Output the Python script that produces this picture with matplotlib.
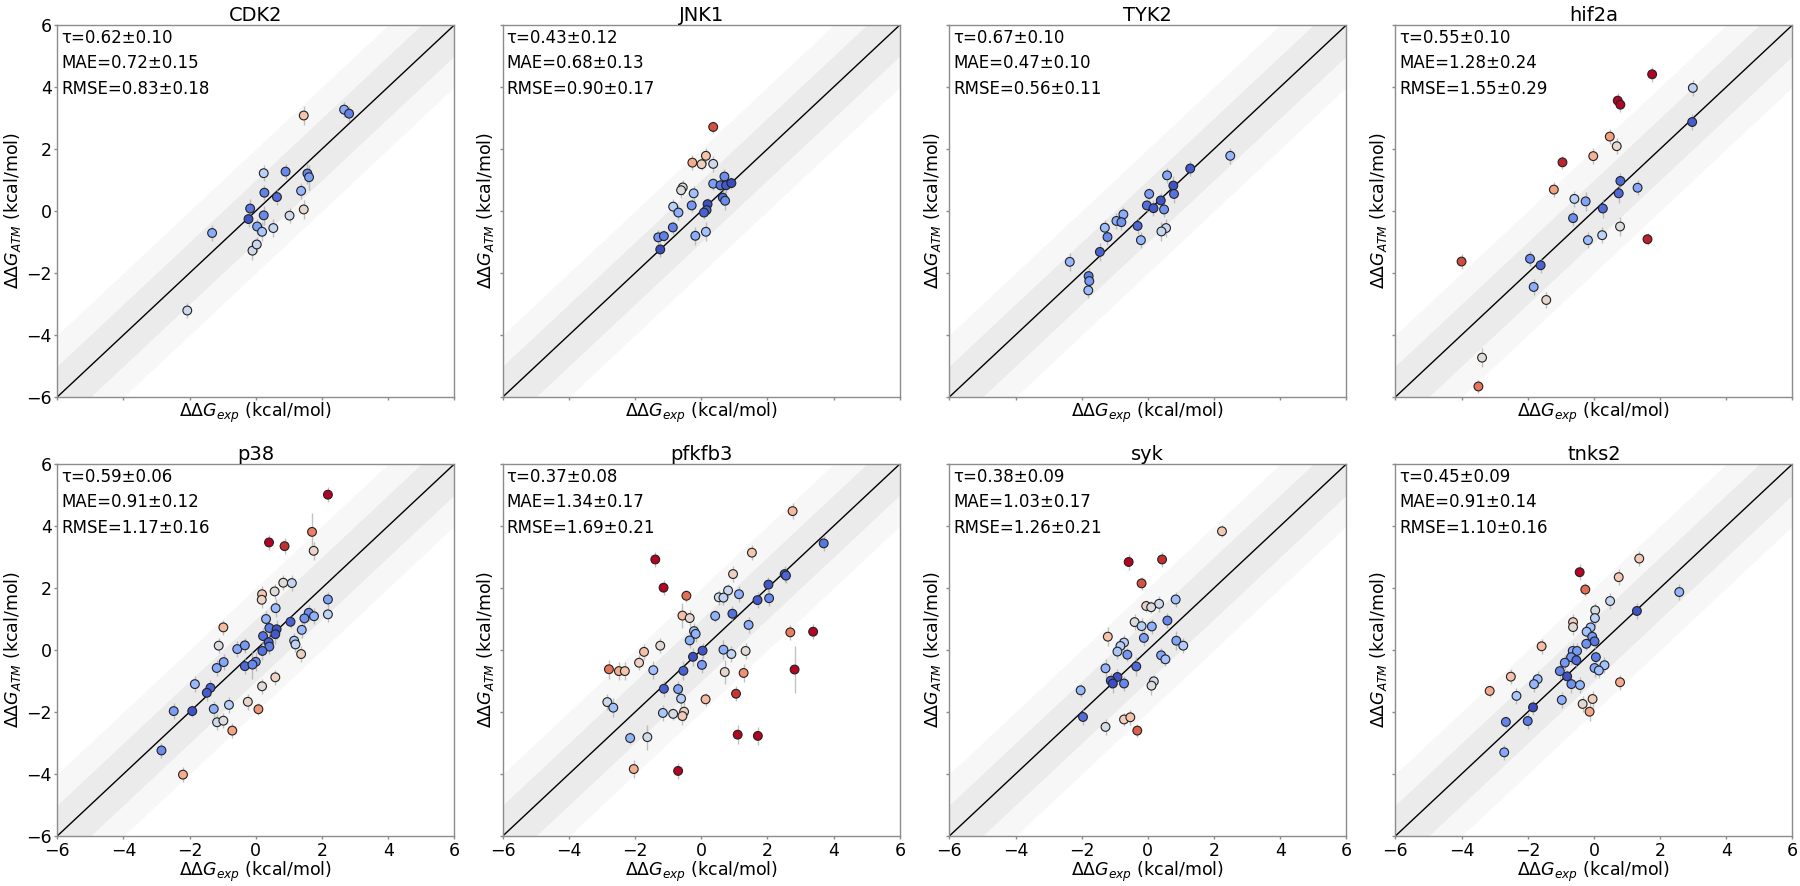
import matplotlib
matplotlib.use('Agg')
import matplotlib.pyplot as plt
import numpy as np
from matplotlib.colors import Normalize

# ---------------- data ----------------
targets = ['CDK2', 'JNK1', 'TYK2', 'hif2a', 'p38', 'pfkfb3', 'syk', 'tnks2']
tau_txt = ['0.62±0.10', '0.43±0.12', '0.67±0.10', '0.55±0.10',
           '0.59±0.06', '0.37±0.08', '0.38±0.09', '0.45±0.09']
mae_txt = ['0.72±0.15', '0.68±0.13', '0.47±0.10', '1.28±0.24',
           '0.91±0.12', '1.34±0.17', '1.03±0.17', '0.91±0.14']
rmse_txt = ['0.83±0.18', '0.90±0.17', '0.56±0.11', '1.55±0.29',
            '1.17±0.16', '1.69±0.21', '1.26±0.21', '1.10±0.16']

cdk2_exp = [-2.07, -1.32, -0.17, -0.22, -0.10, 0.03, 0.04, 0.19, 0.24, 0.26, 0.24,
            0.53, 0.64, 0.90, 1.02, 1.37, 1.45, 1.45, 1.56, 1.61, 2.67, 2.82]
cdk2_atm = [-3.21, -0.71, 0.08, -0.26, -1.28, -1.08, -0.50, -0.67, 1.22, 0.59, -0.14,
            -0.55, 0.45, 1.27, -0.15, 0.65, 3.08, 0.05, 1.21, 1.09, 3.27, 3.14]
cdk2_err = [0.25, 0.25, 0.3, 0.25, 0.3, 0.25, 0.25, 0.3, 0.25, 0.25, 0.3,
            0.3, 0.25, 0.25, 0.25, 0.25, 0.3, 0.3, 0.35, 0.4, 0.25, 0.25]

jnk1_exp = [0.36, 0.14, -0.27, 0.01, 0.36, -0.56, -0.61, -0.23, 0.70, 0.36, 0.58, 0.75,
            0.91, 0.65, 0.72, -0.85, -0.69, -0.29, 0.19, 0.16, 0.08, -0.86, -1.30,
            -1.13, -1.24, -0.18, 0.14]
jnk1_atm = [2.71, 1.78, 1.56, 1.51, 1.52, 0.76, 0.67, 0.57, 1.11, 0.88, 0.83, 0.83,
            0.90, 0.43, 0.33, 0.14, -0.05, 0.18, 0.22, 0.03, -0.05, -0.53, -0.85,
            -0.81, -1.24, -0.80, -0.67]
jnk1_err = [0.2, 0.25, 0.25, 0.2, 0.25, 0.25, 0.25, 0.25, 0.25, 0.2, 0.2, 0.25,
            0.2, 0.25, 0.3, 0.25, 0.25, 0.2, 0.2, 0.2, 0.2, 0.2, 0.25,
            0.2, 0.25, 0.3, 0.3]

tyk2_exp = [2.49, 1.28, 0.58, 0.77, 0.79, 0.04, 0.39, -0.03, 0.17, 0.49, -0.74, -0.95,
            -0.80, -0.31, -1.30, 0.55, 0.41, -1.22, -0.21, -1.45, -2.36, -1.79, -1.77, -1.80]
tyk2_atm = [1.78, 1.37, 1.15, 0.82, 0.55, 0.55, 0.34, 0.18, 0.09, 0.05, -0.11, -0.32,
            -0.36, -0.48, -0.54, -0.55, -0.66, -0.84, -0.94, -1.32, -1.64, -2.10, -2.26, -2.56]
tyk2_err = [0.25, 0.25, 0.25, 0.3, 0.3, 0.2, 0.25, 0.2, 0.25, 0.25, 0.25, 0.25,
            0.25, 0.25, 0.25, 0.3, 0.3, 0.25, 0.25, 0.3, 0.3, 0.25, 0.25, 0.25]

hif2a_exp = [1.76, 2.99, 0.72, 0.80, 2.97, 0.48, 0.69, -0.02, -0.95, 0.80, 1.32, -1.21,
             0.75, -0.59, -0.25, 0.27, -0.63, 0.79, 0.25, -0.18, 1.62, -1.93, -1.61,
             -4.00, -1.82, -1.44, -3.38, -3.49]
hif2a_atm = [4.41, 3.97, 3.56, 3.43, 2.87, 2.40, 2.09, 1.77, 1.57, 0.97, 0.75, 0.69,
             0.57, 0.39, 0.31, 0.08, -0.23, -0.50, -0.78, -0.94, -0.91, -1.54, -1.75,
             -1.63, -2.45, -2.87, -4.73, -5.66]
hif2a_err = [0.25, 0.25, 0.25, 0.25, 0.25, 0.25, 0.25, 0.25, 0.2, 0.25, 0.25, 0.25,
             0.3, 0.25, 0.3, 0.3, 0.25, 0.3, 0.25, 0.25, 0.2, 0.25, 0.25,
             0.25, 0.25, 0.25, 0.3, 0.2]

p38_exp = [2.18, 1.70, 0.40, 0.87, 1.75, 0.83, 1.09, 0.57, 0.19, 0.18, 2.18, 2.18, 0.60,
           1.60, 1.47, 1.76, 0.31, 1.05, 0.41, 0.63, 0.59, 1.39, -0.98, 0.22, 0.39, 0.41,
           1.16, 1.20, -1.12, -0.56, -0.33, 0.20, 1.37, -0.97, -1.18, -0.33, 0.00, -0.10,
           0.59, 0.19, -1.84, -1.37, -1.48, -0.24, -0.81, 0.08, -2.48, -1.92, -1.27,
           -1.17, -0.98, -0.71, -2.85, -2.20]
p38_atm = [5.01, 3.81, 3.47, 3.35, 3.20, 2.17, 2.16, 1.89, 1.80, 1.62, 1.63, 1.15, 1.35,
           1.20, 1.02, 1.09, 1.00, 0.91, 0.71, 0.67, 0.51, 0.65, 0.73, 0.45, 0.25, 0.11,
           0.30, 0.18, 0.14, 0.03, 0.15, -0.03, -0.13, -0.39, -0.58, -0.52, -0.38, -0.47,
           -0.88, -1.17, -1.10, -1.22, -1.38, -1.67, -1.77, -1.91, -1.97, -1.97, -1.90,
           -2.33, -2.28, -2.60, -3.24, -4.02]
p38_err = [0.25, 0.6, 0.25, 0.25, 0.3, 0.25, 0.25, 0.25, 0.25, 0.25, 0.25, 0.25, 0.3,
           0.25, 0.25, 0.25, 0.25, 0.2, 0.25, 0.3, 0.3, 0.25, 0.25, 0.25, 0.3, 0.25,
           0.25, 0.25, 0.25, 0.25, 0.25, 0.3, 0.25, 0.25, 0.25, 0.25, 0.3, 0.45,
           0.25, 0.25, 0.25, 0.25, 0.25, 0.25, 0.25, 0.2, 0.25, 0.2, 0.25,
           0.25, 0.25, 0.25, 0.25, 0.25]

pfkfb3_exp = [2.76, 3.70, 1.53, -1.39, 0.96, 2.52, 2.56, -1.14, 2.03, 0.81, 0.53, 0.67,
              1.14, -0.45, 1.70, 2.05, 0.94, 0.42, -0.57, -0.35, 1.43, -0.22, -0.17,
              -0.35, 2.69, 3.38, -1.24, -1.73, 0.04, 0.67, 0.91, 1.34, -0.25, -1.88,
              -2.79, -2.49, -2.31, -1.45, -0.54, 0.02, 0.71, 1.28, 2.82, -1.13, -0.70,
              -0.61, 1.05, 0.13, -2.84, -2.66, -1.16, -0.85, -0.52, -0.57, -2.15, -1.63,
              1.10, 1.71, -2.04, -0.70]
pfkfb3_atm = [4.48, 3.44, 3.14, 2.92, 2.45, 2.45, 2.40, 2.01, 2.11, 1.92, 1.70, 1.69,
              1.80, 1.75, 1.61, 1.67, 1.17, 1.10, 1.11, 1.03, 0.81, 0.61, 0.52,
              0.31, 0.57, 0.59, 0.14, -0.06, -0.02, 0.01, -0.13, -0.03, -0.22, -0.41,
              -0.62, -0.68, -0.68, -0.65, -0.67, -0.48, -0.71, -0.74, -0.63, -1.25, -1.26,
              -1.57, -1.41, -1.59, -1.68, -1.86, -2.03, -2.06, -1.99, -2.13, -2.84, -2.81,
              -2.73, -2.77, -3.84, -3.90]
pfkfb3_err = [0.25, 0.25, 0.25, 0.25, 0.25, 0.25, 0.25, 0.25, 0.25, 0.2, 0.25, 0.25,
              0.25, 0.2, 0.25, 0.25, 0.25, 0.2, 0.4, 0.25, 0.25, 0.25, 0.25,
              0.25, 0.25, 0.25, 0.25, 0.25, 0.25, 0.3, 0.25, 0.25, 0.3, 0.25,
              0.3, 0.3, 0.3, 0.3, 0.3, 0.25, 0.4, 0.3, 0.75, 0.25, 0.25,
              0.3, 0.25, 0.2, 0.25, 0.3, 0.25, 0.2, 0.3, 0.3, 0.2, 0.4,
              0.3, 0.3, 0.3, 0.25]

syk_exp = [2.24, -0.58, 0.43, -0.19, 0.84, 0.34, -0.05, 0.10, 0.59, -0.40, -0.19, 0.12,
           -1.21, -0.12, 0.86, 1.07, -0.72, -0.83, -0.92, -0.62, 0.40, 0.53, -0.35, -1.28,
           -0.92, -1.12, -1.06, -0.72, 0.18, 0.11, -2.03, -1.96, -0.72, -0.53, -1.28, -0.32]
syk_atm = [3.83, 2.84, 2.92, 2.15, 1.63, 1.49, 1.42, 1.38, 0.95, 0.90, 0.77, 0.76,
           0.43, 0.39, 0.30, 0.14, 0.24, 0.13, -0.05, -0.15, -0.17, -0.30, -0.53, -0.59,
           -0.87, -0.99, -1.08, -1.08, -1.01, -1.15, -1.30, -2.16, -2.24, -2.17, -2.48, -2.60]
syk_err = [0.2, 0.25, 0.25, 0.2, 0.25, 0.25, 0.2, 0.2, 0.25, 0.25, 0.25, 0.25,
           0.3, 0.25, 0.3, 0.25, 0.25, 0.25, 0.25, 0.2, 0.25, 0.2, 0.3, 0.3,
           0.25, 0.25, 0.3, 0.25, 0.2, 0.3, 0.2, 0.25, 0.2, 0.25, 0.25, 0.2]

tnks2_exp = [1.37, -0.43, 0.75, -0.26, 2.58, 0.49, 1.30, 0.04, 0.03, -0.63, -0.63, -0.10,
             -0.22, -0.05, 0.02, -0.23, -1.58, -0.64, -0.51, -0.69, -0.53, 0.06, -0.88,
             0.32, 0.02, 0.15, -1.03, -0.81, -2.51, -1.70, -1.81, -0.68, -0.42, 0.79,
             -3.15, -2.34, -0.97, -0.04, -0.34, -0.13, -1.84, -2.00, -2.66, -2.71]
tnks2_atm = [2.95, 2.51, 2.35, 1.95, 1.87, 1.58, 1.26, 1.28, 1.03, 0.90, 0.74, 0.73,
             0.59, 0.43, 0.28, 0.20, 0.12, -0.03, -0.03, -0.23, -0.33, -0.23, -0.41,
             -0.49, -0.58, -0.66, -0.68, -0.85, -0.86, -0.94, -1.10, -1.10, -1.13, -1.04,
             -1.32, -1.48, -1.61, -1.58, -1.74, -1.99, -1.85, -2.29, -2.32, -3.30]
tnks2_err = [0.25, 0.25, 0.25, 0.2, 0.25, 0.25, 0.25, 0.25, 0.25, 0.25, 0.25, 0.25,
             0.25, 0.25, 0.25, 0.2, 0.25, 0.25, 0.25, 0.25, 0.25, 0.2, 0.25,
             0.25, 0.3, 0.25, 0.25, 0.2, 0.25, 0.25, 0.25, 0.3, 0.25, 0.25,
             0.2, 0.25, 0.25, 0.25, 0.25, 0.3, 0.25, 0.25, 0.2, 0.25]

exp_sets = [cdk2_exp, jnk1_exp, tyk2_exp, hif2a_exp, p38_exp, pfkfb3_exp, syk_exp, tnks2_exp]
atm_sets = [cdk2_atm, jnk1_atm, tyk2_atm, hif2a_atm, p38_atm, pfkfb3_atm, syk_atm, tnks2_atm]
err_sets = [cdk2_err, jnk1_err, tyk2_err, hif2a_err, p38_err, pfkfb3_err, syk_err, tnks2_err]

ticks = [-6, -4, -2, 0, 2, 4, 6]

# ---------------- figure ----------------
fig = plt.figure(figsize=(18, 8.86), dpi=100)
lefts = [0.0318, 0.2793, 0.5274, 0.7752]
bottoms = [0.5519, 0.0564]
w, h = 0.2206, 0.4199

cmap = plt.get_cmap('coolwarm')
norm = Normalize(vmin=0.0, vmax=2.6)
spine_col = '#8c8c8c'

for i, name in enumerate(targets):
    r, c = divmod(i, 4)
    ax = fig.add_axes([lefts[c], bottoms[r], w, h])
    x = np.array(exp_sets[i])
    y = np.array(atm_sets[i])
    e = np.array(err_sets[i])

    line = np.array([-6.0, 6.0])
    ax.fill_between(line, line - 2, line + 2, color='#f7f7f7', lw=0, zorder=0)
    ax.fill_between(line, line - 1, line + 1, color='#ebebeb', lw=0, zorder=0.5)
    ax.plot(line, line, color='black', lw=1.0, zorder=1)

    ax.errorbar(x, y, yerr=e, fmt='none', ecolor='#a9a9a9', elinewidth=1.0,
                alpha=0.7, zorder=2)
    ax.scatter(x, y, c=np.abs(y - x), cmap=cmap, norm=norm, s=40,
               edgecolors='#222222', linewidths=0.8, zorder=3)

    ax.set_xlim(-6, 6)
    ax.set_ylim(-6, 6)
    ax.set_xticks(ticks)
    ax.set_yticks(ticks)
    ax.tick_params(labelsize=12.5, color=spine_col, length=2.5, width=1, pad=1.5)
    if r == 0:
        ax.tick_params(labelbottom=False)
    if c != 0:
        ax.tick_params(labelleft=False)
    for sp in ax.spines.values():
        sp.set_color(spine_col)
        sp.set_linewidth(1.0)

    ax.set_title(name, fontsize=14, pad=3)
    ax.set_xlabel(r'$\Delta\Delta G_{exp}$ (kcal/mol)', fontsize=12.5, labelpad=0.5)
    ax.set_ylabel(r'$\Delta\Delta G_{ATM}$ (kcal/mol)', fontsize=12.5, labelpad=2)

    ax.text(0.01, 0.965, 'τ=' + tau_txt[i], transform=ax.transAxes,
            fontsize=12, va='center', ha='left')
    ax.text(0.01, 0.897, 'MAE=' + mae_txt[i], transform=ax.transAxes,
            fontsize=12, va='center', ha='left')
    ax.text(0.01, 0.828, 'RMSE=' + rmse_txt[i], transform=ax.transAxes,
            fontsize=12, va='center', ha='left')

fig.savefig('out.png', dpi=100)
